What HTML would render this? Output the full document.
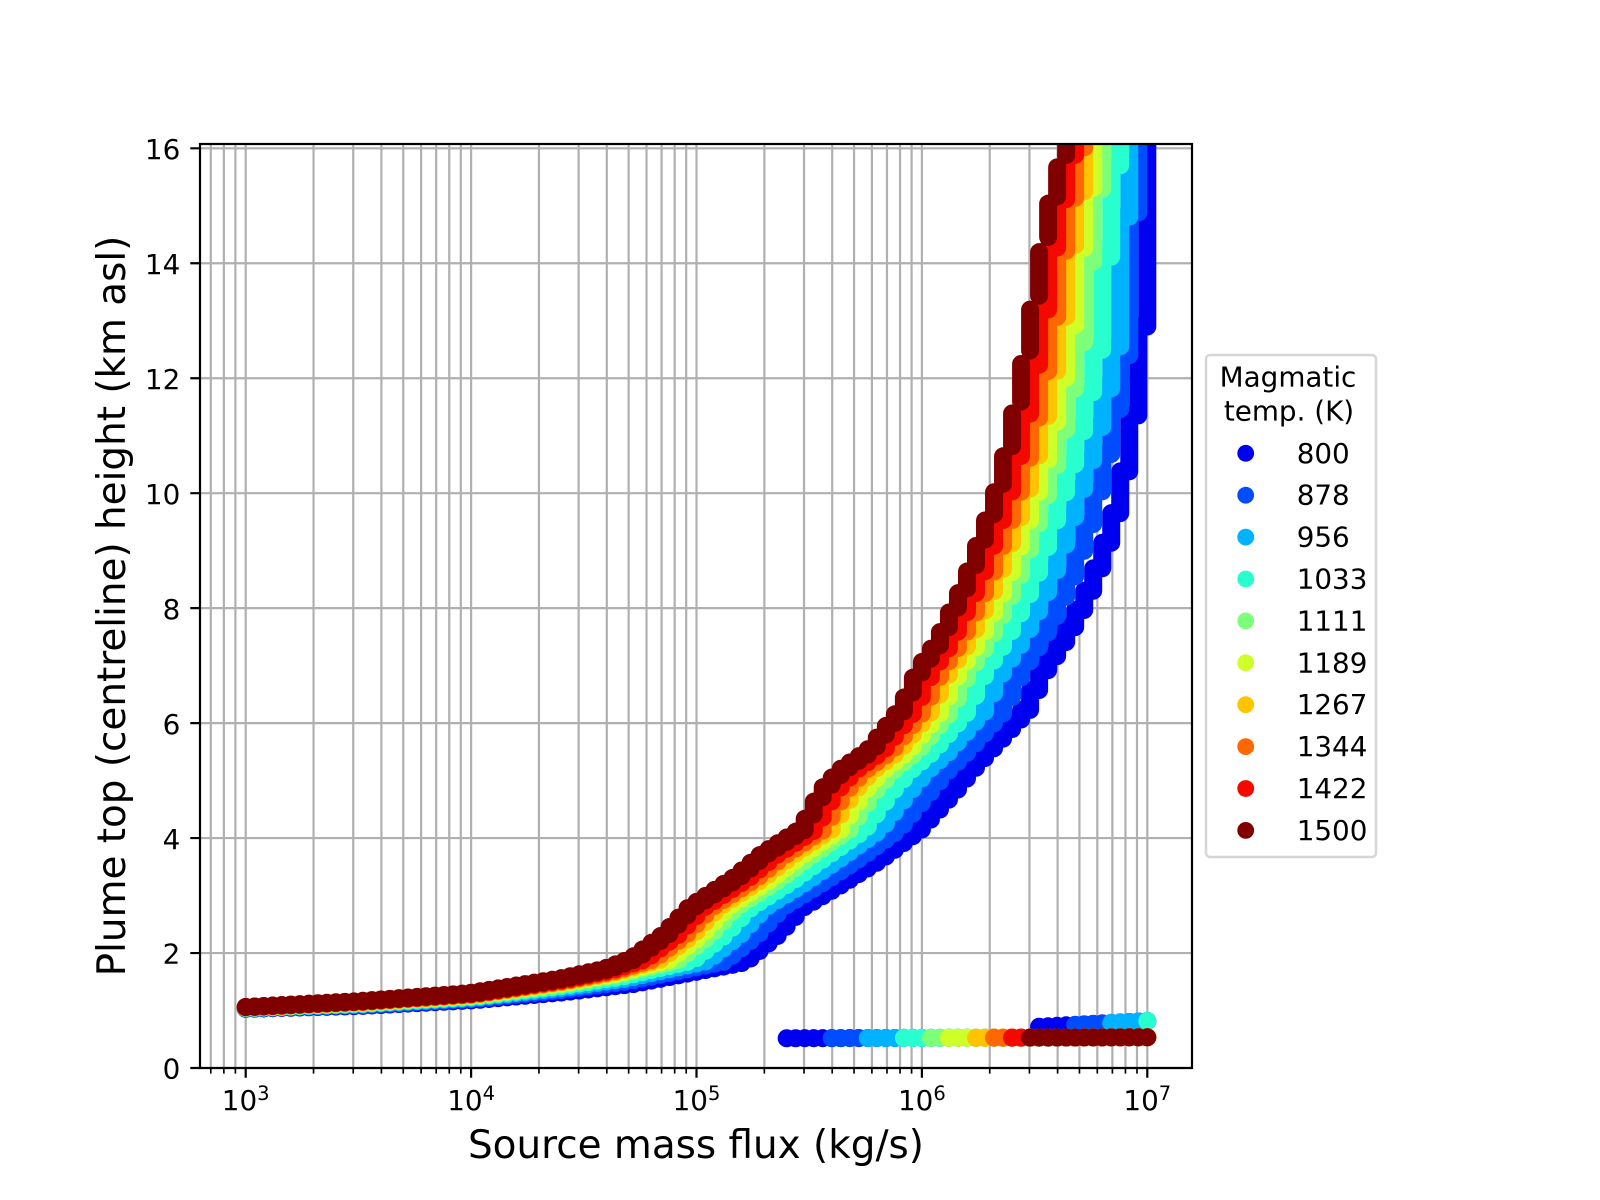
<!DOCTYPE html>
<html>
<head>
<meta charset="utf-8">
<style>
html,body{margin:0;padding:0;background:#fff;}
svg{display:block;}
text{font-family:"DejaVu Sans","Liberation Sans",sans-serif;fill:#000;}
</style>
</head>
<body>
<svg id="s" width="1600" height="1200" viewBox="0 0 1600 1200" xmlns="http://www.w3.org/2000/svg">
<rect width="1600" height="1200" fill="#fff"/>
<defs><clipPath id="c"><rect x="200" y="144" width="992" height="924"/></clipPath></defs>

<!-- grid -->
<g stroke="#b0b0b0" stroke-width="2.2" fill="none">
<path d="M210.79 144V1068M223.86 144V1068M235.39 144V1068M245.7 144V1068M313.55 144V1068M353.24 144V1068M381.4 144V1068M403.25 144V1068M421.1 144V1068M436.19 144V1068M449.26 144V1068M460.79 144V1068M471.1 144V1068M538.95 144V1068M578.64 144V1068M606.8 144V1068M628.65 144V1068M646.5 144V1068M661.59 144V1068M674.66 144V1068M686.19 144V1068M696.5 144V1068M764.35 144V1068M804.04 144V1068M832.2 144V1068M854.05 144V1068M871.9 144V1068M886.99 144V1068M900.06 144V1068M911.59 144V1068M921.9 144V1068M989.75 144V1068M1029.44 144V1068M1057.6 144V1068M1079.45 144V1068M1097.3 144V1068M1112.39 144V1068M1125.46 144V1068M1136.99 144V1068M1147.3 144V1068"/>
<path d="M200 1068H1192M200 953.04H1192M200 838.08H1192M200 723.12H1192M200 608.16H1192M200 493.2H1192M200 378.24H1192M200 263.28H1192M200 148.32H1192"/>
</g>

<g id="data" clip-path="url(#c)"></g>

<!-- spines -->
<rect x="200" y="144" width="992" height="924" fill="none" stroke="#000" stroke-width="2.2"/>

<!-- ticks -->
<g stroke="#000" fill="none">
<path stroke-width="2.2" d="M190.3 1068H200M190.3 953.04H200M190.3 838.08H200M190.3 723.12H200M190.3 608.16H200M190.3 493.2H200M190.3 378.24H200M190.3 263.28H200M190.3 148.32H200"/>
<path stroke-width="2.2" d="M245.7 1068V1077.7M471.1 1068V1077.7M696.5 1068V1077.7M921.9 1068V1077.7M1147.3 1068V1077.7"/>
<path stroke-width="1.67" d="M210.79 1068V1073.6M223.86 1068V1073.6M235.39 1068V1073.6M313.55 1068V1073.6M353.24 1068V1073.6M381.4 1068V1073.6M403.25 1068V1073.6M421.1 1068V1073.6M436.19 1068V1073.6M449.26 1068V1073.6M460.79 1068V1073.6M538.95 1068V1073.6M578.64 1068V1073.6M606.8 1068V1073.6M628.65 1068V1073.6M646.5 1068V1073.6M661.59 1068V1073.6M674.66 1068V1073.6M686.19 1068V1073.6M764.35 1068V1073.6M804.04 1068V1073.6M832.2 1068V1073.6M854.05 1068V1073.6M871.9 1068V1073.6M886.99 1068V1073.6M900.06 1068V1073.6M911.59 1068V1073.6M989.75 1068V1073.6M1029.44 1068V1073.6M1057.6 1068V1073.6M1079.45 1068V1073.6M1097.3 1068V1073.6M1112.39 1068V1073.6M1125.46 1068V1073.6M1136.99 1068V1073.6"/>
</g>

<!-- y tick labels -->
<g font-size="27.8" text-anchor="end">
<text x="180.3" y="1078.7">0</text>
<text x="180.3" y="963.7">2</text>
<text x="180.3" y="848.8">4</text>
<text x="180.3" y="733.8">6</text>
<text x="180.3" y="618.9">8</text>
<text x="180.3" y="503.9">10</text>
<text x="180.3" y="388.9">12</text>
<text x="180.3" y="274">14</text>
<text x="180.3" y="159">16</text>
</g>

<!-- x tick labels -->
<g font-size="27.8" text-anchor="middle">
<text x="245.7" y="1110">10<tspan dy="-10" font-size="19.5">3</tspan></text>
<text x="471.1" y="1110">10<tspan dy="-10" font-size="19.5">4</tspan></text>
<text x="696.5" y="1110">10<tspan dy="-10" font-size="19.5">5</tspan></text>
<text x="921.9" y="1110">10<tspan dy="-10" font-size="19.5">6</tspan></text>
<text x="1147.3" y="1110">10<tspan dy="-10" font-size="19.5">7</tspan></text>
</g>

<!-- axis labels -->
<text x="696" y="1158" font-size="38.9" text-anchor="middle">Source mass flux (kg/s)</text>
<text transform="translate(125,606) rotate(-90)" font-size="38.9" text-anchor="middle">Plume top (centreline) height (km asl)</text>

<!-- legend -->
<rect x="1206" y="355" width="170" height="502" rx="4" ry="4" fill="#fff" stroke="#d6d6d6" stroke-width="2.5"/>
<g font-size="27.8">
<text x="1288" y="386.7" text-anchor="middle">Magmatic</text>
<text x="1289" y="420.7" text-anchor="middle">temp. (K)</text>
<circle cx="1245.7" cy="453.3" r="8.4" fill="#0000f1"/><text x="1296.7" y="462.8">800</text>
<circle cx="1245.7" cy="495.2" r="8.4" fill="#004dff"/><text x="1296.7" y="504.7">878</text>
<circle cx="1245.7" cy="537.1" r="8.4" fill="#00b2ff"/><text x="1296.7" y="546.6">956</text>
<circle cx="1245.7" cy="579.0" r="8.4" fill="#29ffce"/><text x="1296.7" y="588.5">1033</text>
<circle cx="1245.7" cy="620.9" r="8.4" fill="#7dff7a"/><text x="1296.7" y="630.4">1111</text>
<circle cx="1245.7" cy="662.8" r="8.4" fill="#ceff29"/><text x="1296.7" y="672.3">1189</text>
<circle cx="1245.7" cy="704.7" r="8.4" fill="#ffc400"/><text x="1296.7" y="714.2">1267</text>
<circle cx="1245.7" cy="746.6" r="8.4" fill="#ff6800"/><text x="1296.7" y="756.1">1344</text>
<circle cx="1245.7" cy="788.5" r="8.4" fill="#f30900"/><text x="1296.7" y="798.0">1422</text>
<circle cx="1245.7" cy="830.4" r="8.4" fill="#800000"/><text x="1296.7" y="839.9">1500</text>
</g>
</svg>

<script>
(function(){
const A=[[3.00,1.06],[3.50,1.16],[4.00,1.30],[4.40,1.55],[4.60,1.72],[4.72,1.90],[4.86,2.31],[4.98,2.80],[5.18,3.32],[5.30,3.72],[5.47,4.15],[5.56,4.82],[5.645,5.18],[5.77,5.52],[5.91,6.23],[5.99,6.92],[6.075,7.41],[6.12,7.80],[6.20,8.47],[6.28,9.36],[6.32,9.80],[6.36,10.38],[6.40,11.08],[6.44,11.90],[6.48,12.83],[6.52,13.80],[6.56,14.85],[6.60,15.35],[6.64,16.20],[6.72,17.0],[7.20,20.0]];
const B=[[3.00,1.03],[3.50,1.08],[4.00,1.18],[4.40,1.32],[4.70,1.46],[5.20,1.84],[5.35,2.33],[5.46,2.80],[5.63,3.20],[5.80,3.62],[5.98,4.15],[6.135,4.82],[6.21,5.18],[6.29,5.52],[6.46,6.23],[6.54,6.92],[6.62,7.41],[6.68,7.80],[6.76,8.47],[6.84,9.36],[6.87,9.80],[6.90,10.38],[6.93,11.08],[6.96,11.90],[6.975,12.5],[6.985,13.3],[6.995,14.5],[7.005,15.35],[7.015,16.2],[7.03,17.0],[7.10,20.0]];
function hAt(c,l){
  if(l<=c[0][0]) return c[0][1];
  for(let k=1;k<c.length;k++){
    if(l<=c[k][0]){
      const f=(l-c[k-1][0])/(c[k][0]-c[k-1][0]);
      return c[k-1][1]+f*(c[k][1]-c[k-1][1]);
    }
  }
  return c[c.length-1][1];
}
const X=l=>245.7+(l-3)*225.4, Y=h=>1068-57.48*h;
const S=[
 ['#0000f1',1.0,1.0,5.40,6.52],
 ['#004dff',0.808,0.86,5.60,6.68],
 ['#00b2ff',0.648,0.77,5.76,6.84],
 ['#29ffce',0.512,0.62,5.92,7.0],
 ['#7dff7a',0.376,0.45,6.04,99],
 ['#ceff29',0.296,0.35,6.12,99],
 ['#ffc400',0.216,0.26,6.24,99],
 ['#ff6800',0.152,0.18,6.32,99],
 ['#f30900',0.08,0.09,6.40,99],
 ['#800000',0,0,6.48,99]
];
function seg(x,y1,y2){
  if(Math.abs(y1-y2)<0.05) y2=y1-0.05;
  return 'M'+x.toFixed(2)+' '+y1.toFixed(2)+'L'+x.toFixed(2)+' '+y2.toFixed(2);
}
let out='';
for(const s of S){
  const col=s[0],t=s[1],t2=s[2];
  const f=(t===0)?0.015:0.02;
  const lsj=Math.round((s[3]-3)/0.04), usj=Math.round((s[4]-3)/0.04);
  const c=A.map((p,k)=>{
    let tt=t;
    if(k>=24) tt=t2; else if(k>20) tt=t+(t2-t)*(k-20)/4;
    return [p[0]+tt*(B[k][0]-p[0]), p[1]+tt*(B[k][1]-p[1])];
  });
  let d='';
  for(let j=0;j<=100;j++){
    const l=3+0.04*j;
    let h1=hAt(c,l-f), h2=hAt(c,l+f);
    if(h1>16.8) continue;
    d+=seg(X(l),Y(h1),Y(Math.min(h2,17)));
  }
  for(let j=lsj;j<=100;j++){
    const l=3+0.04*j;
    const h=0.517+0.017*(l-5.4)/1.6;
    d+=seg(X(l),Y(h),Y(h));
  }
  if(usj<=100){
    for(let j=usj;j<=100;j++){
      const l=3+0.04*j;
      const h=0.717+0.10*(l-6.52)/0.48;
      d+=seg(X(l),Y(h),Y(h));
    }
  }
  out+='<path d="'+d+'" stroke="'+col+'" stroke-width="18" stroke-linecap="round" stroke-linejoin="round" fill="none"/>';
}
document.getElementById('data').innerHTML=out;
})();
</script>
</body>
</html>
